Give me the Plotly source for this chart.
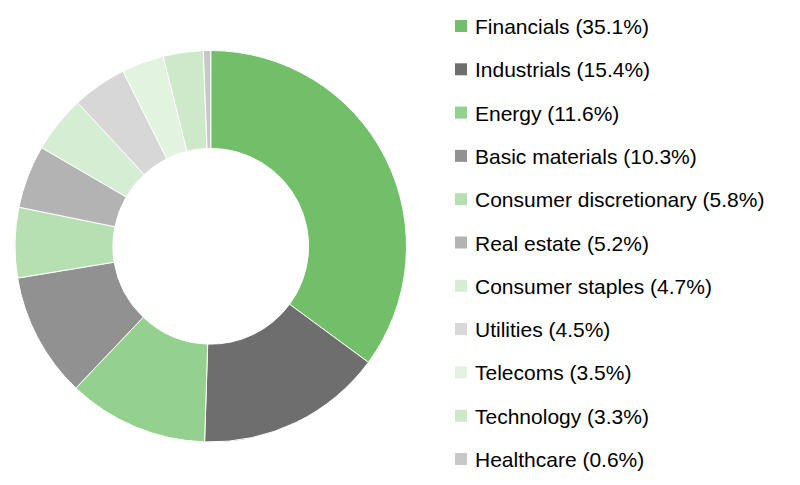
import plotly.graph_objects as go

sectors = ["Financials", "Industrials", "Energy", "Basic materials",
           "Consumer discretionary", "Real estate", "Consumer staples",
           "Utilities", "Telecoms", "Technology", "Healthcare"]
weights = [35.1, 15.4, 11.6, 10.3, 5.8, 5.2, 4.7, 4.5, 3.5, 3.3, 0.6]
colors = ["#72BF69", "#6E6E6E", "#95D18E", "#919191", "#B7E0B2", "#B3B3B3",
          "#D5EDD2", "#D7D7D7", "#E2F3E0", "#CDE9C9", "#C8C8C8"]

labels = [f"{s} ({w:.1f}%)" for s, w in zip(sectors, weights)]

W, H = 800, 485
fig = go.Figure()
fig.add_trace(go.Pie(
    labels=labels, values=weights, sort=False, direction="clockwise",
    hole=0.5, showlegend=False, textinfo="none",
    marker=dict(colors=colors, line=dict(color="white", width=1)),
    domain=dict(x=[7/W, 398.5/W], y=[51/H, 442.5/H]),
))

# legend drawn as swatches + text (layout positions)
row0, dy = 18, 43.3
sq = 12
for i, (lab, c) in enumerate(zip(labels, colors)):
    yc = row0 + i*dy
    fig.add_shape(type="rect", xref="paper", yref="paper",
                  x0=447/W, x1=(447+sq)/W,
                  y0=1-(yc-sq/2)/H, y1=1-(yc+sq/2)/H,
                  fillcolor=c, line=dict(width=0))
    fig.add_annotation(text=lab, xref="paper", yref="paper",
                       x=465/W, y=1-(yc+0.5)/H, xanchor="left", yanchor="middle",
                       showarrow=False, font=dict(size=21, color="#000000"))

fig.update_layout(
    width=W, height=H,
    margin=dict(l=0, r=0, t=0, b=0),
    paper_bgcolor="white", plot_bgcolor="white",
    font=dict(family="Liberation Sans, Arial, sans-serif", color="#000000"),
    showlegend=False,
)
fig.write_html("out.html")
